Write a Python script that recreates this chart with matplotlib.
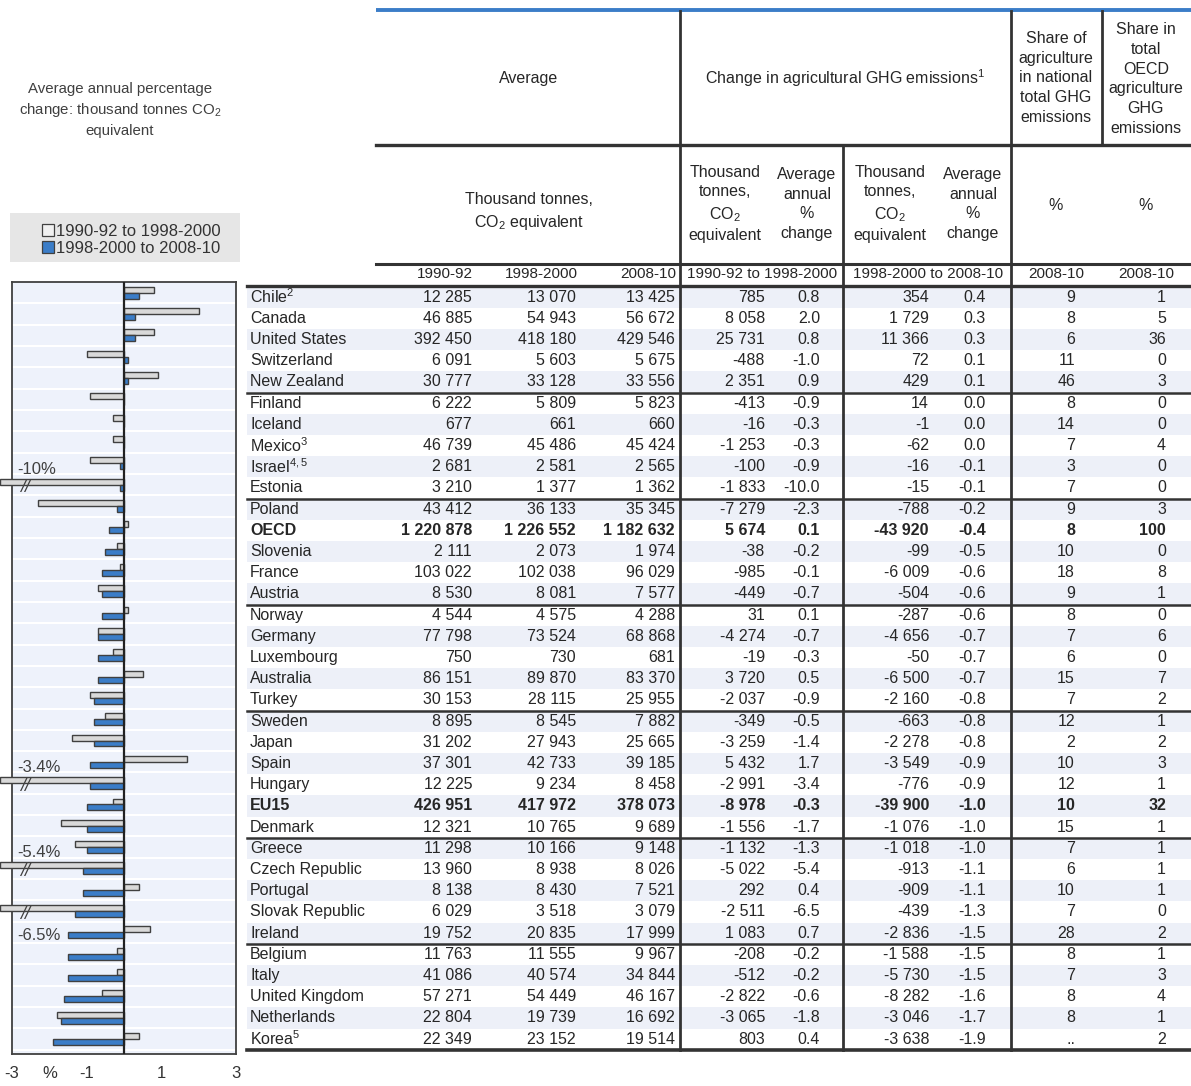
import numpy as np
import matplotlib.pyplot as plt
from matplotlib.patches import Patch, Rectangle

plt.rcParams['font.family'] = ['Liberation Sans', 'DejaVu Sans']
plt.rcParams['mathtext.fontset'] = 'custom'
plt.rcParams['mathtext.rm'] = 'Liberation Sans'
plt.rcParams['mathtext.it'] = 'Liberation Sans:italic'
plt.rcParams['mathtext.bf'] = 'Liberation Sans:bold'

# ---- data ----
countries = ["Chile$^{2}$", "Canada", "United States", "Switzerland", "New Zealand",
             "Finland", "Iceland", "Mexico$^{3}$", "Israel$^{4,5}$", "Estonia",
             "Poland", "OECD", "Slovenia", "France", "Austria",
             "Norway", "Germany", "Luxembourg", "Australia", "Turkey",
             "Sweden", "Japan", "Spain", "Hungary", "EU15", "Denmark",
             "Greece", "Czech Republic", "Portugal", "Slovak Republic", "Ireland",
             "Belgium", "Italy", "United Kingdom", "Netherlands", "Korea$^{5}$"]
bold_rows = ["OECD", "EU15"]

avg_1990 = [12285, 46885, 392450, 6091, 30777, 6222, 677, 46739, 2681, 3210,
            43412, 1220878, 2111, 103022, 8530, 4544, 77798, 750, 86151, 30153,
            8895, 31202, 37301, 12225, 426951, 12321, 11298, 13960, 8138, 6029,
            19752, 11763, 41086, 57271, 22804, 22349]
avg_1998 = [13070, 54943, 418180, 5603, 33128, 5809, 661, 45486, 2581, 1377,
            36133, 1226552, 2073, 102038, 8081, 4575, 73524, 730, 89870, 28115,
            8545, 27943, 42733, 9234, 417972, 10765, 10166, 8938, 8430, 3518,
            20835, 11555, 40574, 54449, 19739, 23152]
avg_2008 = [13425, 56672, 429546, 5675, 33556, 5823, 660, 45424, 2565, 1362,
            35345, 1182632, 1974, 96029, 7577, 4288, 68868, 681, 83370, 25955,
            7882, 25665, 39185, 8458, 378073, 9689, 9148, 8026, 7521, 3079,
            17999, 9967, 34844, 46167, 16692, 19514]
chg1_abs = [785, 8058, 25731, -488, 2351, -413, -16, -1253, -100, -1833,
            -7279, 5674, -38, -985, -449, 31, -4274, -19, 3720, -2037,
            -349, -3259, 5432, -2991, -8978, -1556, -1132, -5022, 292, -2511,
            1083, -208, -512, -2822, -3065, 803]
chg1_pct = [0.8, 2.0, 0.8, -1.0, 0.9, -0.9, -0.3, -0.3, -0.9, -10.0,
            -2.3, 0.1, -0.2, -0.1, -0.7, 0.1, -0.7, -0.3, 0.5, -0.9,
            -0.5, -1.4, 1.7, -3.4, -0.3, -1.7, -1.3, -5.4, 0.4, -6.5,
            0.7, -0.2, -0.2, -0.6, -1.8, 0.4]
chg2_abs = [354, 1729, 11366, 72, 429, 14, -1, -62, -16, -15,
            -788, -43920, -99, -6009, -504, -287, -4656, -50, -6500, -2160,
            -663, -2278, -3549, -776, -39900, -1076, -1018, -913, -909, -439,
            -2836, -1588, -5730, -8282, -3046, -3638]
chg2_pct = [0.4, 0.3, 0.3, 0.1, 0.1, 0.0, 0.0, 0.0, -0.1, -0.1,
            -0.2, -0.4, -0.5, -0.6, -0.6, -0.6, -0.7, -0.7, -0.7, -0.8,
            -0.8, -0.8, -0.9, -0.9, -1.0, -1.0, -1.0, -1.1, -1.1, -1.3,
            -1.5, -1.5, -1.5, -1.6, -1.7, -1.9]
share_nat = [9, 8, 6, 11, 46, 8, 14, 7, 3, 7, 9, 8, 10, 18, 9, 8, 7, 6, 15, 7,
             12, 2, 10, 12, 10, 15, 7, 6, 10, 7, 28, 8, 7, 8, 8, None]
share_oecd = [1, 5, 36, 0, 3, 0, 0, 4, 0, 0, 3, 100, 0, 8, 1, 0, 6, 0, 7, 2,
              1, 2, 3, 1, 32, 1, 1, 1, 1, 0, 2, 1, 3, 4, 1, 2]
group_ends = [4, 9, 14, 19, 25, 30]   # rows followed by a separator line

period_labels = ["1990-92 to 1998-2000", "1998-2000 to 2008-10"]

# ---- styling ----
GREY = "#d9d9d9"
BLUE = "#3b7dc8"
EDGE = "#404040"
LINE = "#333333"
SHADE = "#edf0f8"
TXT = "#262626"

W, H = 1191, 1086
fig = plt.figure(figsize=(W / 100, H / 100), dpi=100)

# overlay axes in pixel coordinates for the table
tab = fig.add_axes([0, 0, 1, 1])
tab.set_xlim(0, W)
tab.set_ylim(H, 0)
tab.axis('off')

n = len(countries)
row_top = 286.5
row_h = 21.2
fs = 11.5


def fmt_int(v):
    if v is None:
        return ".."
    return f"{v:,}".replace(",", " ")


def fmt_pct(v):
    return f"{v:.1f}"


for i in range(0, n, 2):
    tab.add_patch(Rectangle((247, row_top + i * row_h), W - 247, row_h,
                            color=SHADE, lw=0, zorder=0))

columns = [(472, avg_1990, fmt_int), (576, avg_1998, fmt_int), (675, avg_2008, fmt_int),
           (765, chg1_abs, fmt_int), (820, chg1_pct, fmt_pct),
           (929, chg2_abs, fmt_int), (986, chg2_pct, fmt_pct),
           (1075, share_nat, fmt_int), (1166, share_oecd, fmt_int)]

for i, name in enumerate(countries):
    y = row_top + (i + 0.5) * row_h
    weight = 'bold' if name in bold_rows else 'normal'
    tab.text(250, y, name, ha='left', va='center', fontsize=fs, color=TXT, fontweight=weight)
    for x, vals, f in columns:
        tab.text(x, y, f(vals[i]), ha='right', va='center', fontsize=fs,
                 color=TXT, fontweight=weight)

# table lines
bottom = row_top + n * row_h
tab.plot([376, W], [10, 10], color=BLUE, lw=2.8, solid_capstyle='butt')
tab.plot([376, W], [145, 145], color=LINE, lw=2.4)
tab.plot([376, W], [264, 264], color=LINE, lw=2.2)
tab.plot([247, W], [row_top - 1, row_top - 1], color=LINE, lw=2.4)
tab.plot([247, W], [bottom, bottom], color=LINE, lw=2.6)
for g in group_ends:
    yy = row_top + (g + 1) * row_h
    tab.plot([247, W], [yy, yy], color=LINE, lw=1.8)
for x, y0 in [(680, 11), (1011, 11), (843, 145)]:
    tab.plot([x, x], [y0, bottom], color=LINE, lw=2.0)
tab.plot([1102, 1102], [11, 145], color=LINE, lw=2.0)

# header texts
hk = dict(ha='center', va='center', fontsize=fs, color=TXT, linespacing=1.4)
tab.text(529, 78, "Average", **hk)
tab.text(845, 78, "Change in agricultural GHG emissions$^{1}$", **hk)
tab.text(1056, 78, "Share of\nagriculture\nin national\ntotal GHG\nemissions", **hk)
tab.text(1146, 79, "Share in\ntotal\nOECD\nagriculture\nGHG\nemissions", **hk)
tab.text(529, 212, "Thousand tonnes,\nCO$_2$ equivalent", **hk)
for x, label in [(725, "Thousand\ntonnes,\nCO$_2$\nequivalent"), (807, "Average\nannual\n%\nchange"),
                 (890, "Thousand\ntonnes,\nCO$_2$\nequivalent"), (973, "Average\nannual\n%\nchange")]:
    tab.text(x, 204, label, **hk)
tab.text(1056, 205, "%", **hk)
tab.text(1146, 205, "%", **hk)

yk = dict(va='center', fontsize=11, color=TXT)
tab.text(473, 274, "1990-92", ha='right', **yk)
tab.text(578, 274, "1998-2000", ha='right', **yk)
tab.text(676, 274, "2008-10", ha='right', **yk)
tab.text(762, 274, period_labels[0], ha='center', **yk)
tab.text(928, 274, period_labels[1], ha='center', **yk)
tab.text(1056, 274, "2008-10", ha='center', **yk)
tab.text(1146, 274, "2008-10", ha='center', **yk)

# left title and legend
tab.text(120, 110, "Average annual percentage\nchange: thousand tonnes CO$_2$\nequivalent",
         ha='center', va='center', fontsize=10.8, color="#404040", linespacing=1.45)
tab.add_patch(Rectangle((10, 213), 230, 49, color="#e6e6e6", lw=0, zorder=0))
handles = [Patch(facecolor="#f0f0f0", edgecolor=EDGE, lw=0.9),
           Patch(facecolor=BLUE, edgecolor=EDGE, lw=0.9)]
fig.legend(handles, period_labels, loc='upper left',
           bbox_to_anchor=(30 / W, 1 - 212 / H), frameon=False, fontsize=12,
           handlelength=0.75, handleheight=0.75, handletextpad=0.1,
           labelspacing=0.15, borderpad=0.2, labelcolor="#333333")

# ---- bar chart ----
ax = fig.add_axes([12 / W, 1 - 1054 / H, 224 / W, 772 / H])
ax.set_facecolor("#eef2fb")
y = np.arange(n)
xmin, xmax = -3, 3
cut = -3.32
v1 = np.array(chg1_pct)
v2 = np.array(chg2_pct)
ax.barh(y - 0.14, np.maximum(v1, cut), height=0.28, color=GREY, edgecolor=EDGE,
        lw=1.0, zorder=3, clip_on=False)
ax.barh(y + 0.14, np.maximum(v2, cut), height=0.28, color=BLUE, edgecolor=EDGE,
        lw=1.0, zorder=3, clip_on=False)
ax.axvline(0, color="#222222", lw=1.6, zorder=4)

# broken bars: value labels and break marks
label_dy = {"Estonia": -0.7, "Hungary": -0.72, "Czech Republic": -0.73, "Slovak Republic": 1.16}
for i in np.where(v1 < xmin)[0]:
    ax.text(-2.85, i + label_dy[countries[i]], f"{v1[i]:g}%", ha='left', va='center',
            fontsize=12, color="#404040", zorder=5)
    ax.text(-2.65, i + 0.15, "//", ha='center', va='center', fontsize=13,
            style='italic', color="#404040", zorder=5)

ax.set_xlim(xmin, xmax)
ax.set_ylim(n - 0.3, -0.5)
ax.set_xticks([-3, -2, -1, 1, 3])
ax.set_xticklabels(["-3", "%", "-1", "1", "3"])
ax.set_xticks([-1, 1], minor=True)
ax.set_yticks([])
ax.set_yticks(np.arange(n) + 0.5, minor=True)
ax.tick_params(axis='both', which='both', length=0)
ax.tick_params(axis='x', labelsize=12, labelcolor="#333333", pad=9)
ax.grid(which='minor', color='white', lw=1.5, zorder=0)
for s in ax.spines.values():
    s.set_color(EDGE)
    s.set_linewidth(1.3)

fig.savefig("out.png", dpi=100)
